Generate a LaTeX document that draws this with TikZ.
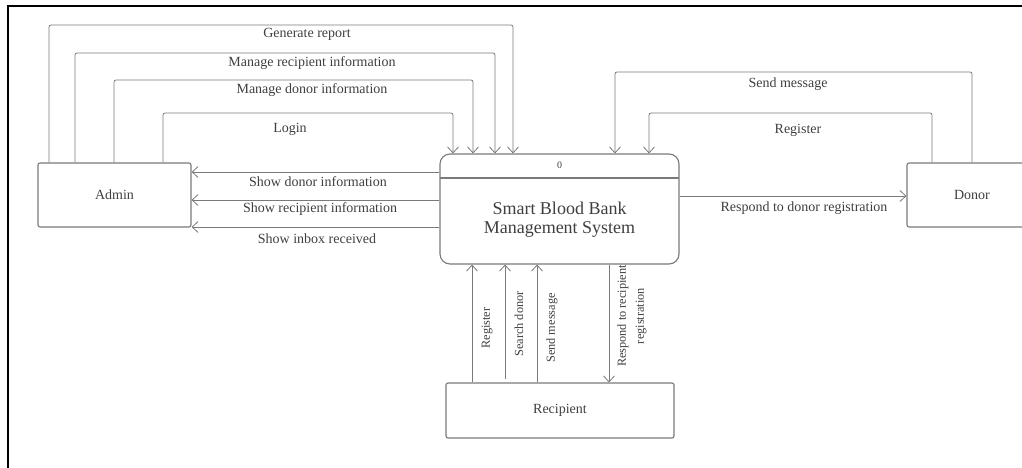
\documentclass[tikz,border=0pt]{standalone}
\usepackage{fontspec}
\setmainfont{Liberation Serif}
\usetikzlibrary{arrows.meta}

\definecolor{linegray}{HTML}{7A7A7A}
\definecolor{textgray}{HTML}{3F3F3F}

\tikzset{
  entity/.style={draw=linegray, line width=1.1pt, rounded corners=2pt,
    inner sep=0pt, text=textgray, font=\fontsize{14}{16}\selectfont},
  flow/.style={draw=linegray, line width=0.8pt, rounded corners=2pt,
    -{Straight Barb[length=6pt,width=11pt,line width=0.8pt]}},
  lbl/.style={text=textgray, inner sep=0pt, font=\fontsize{14}{16}\selectfont},
  vlbl/.style={text=textgray, inner sep=0pt, rotate=90, align=center,
    font=\fontsize{12.3}{18}\selectfont},
}

\begin{document}
\begin{tikzpicture}[x=1pt, y=-1pt]
  \useasboundingbox (0,0) rectangle (1022,468);
  \clip (0,0) rectangle (1022,468);

  % page frame (left and top edges)
  \draw[black, line width=2.4pt] (8,470) -- (8,6) -- (1024,6);

  % external entities
  \node[entity, minimum width=153pt, minimum height=64pt] (admin) at (114.5,195) {Admin};
  \node[entity, minimum width=130pt, minimum height=64pt] (donor) at (972,195) {Donor};
  \node[entity, minimum width=228pt, minimum height=55pt] (recipient) at (560,410.5) {Recipient};

  % central process
  \node[draw=linegray, line width=1.1pt, rounded corners=10pt, minimum width=239pt,
        minimum height=110pt, inner sep=0pt] (sys) at (559.5,209) {};
  \draw[linegray, line width=1.1pt] (440,178) -- (679,178);
  \node[lbl, font=\fontsize{10}{12}\selectfont] (sysid) at (559.5,165) {0};
  \node[lbl, align=center, font=\fontsize{18}{19}\selectfont] (sysname) at (559.5,220)
    {Smart Blood Bank\\Management System};

  % admin -> system
  \draw[flow] (49,0 |- admin.north)  -- (49,25)  -- (513,25)  -- (513,0 |- sys.north);
  \draw[flow] (75,0 |- admin.north)  -- (75,53)  -- (495,53)  -- (495,0 |- sys.north);
  \draw[flow] (114,0 |- admin.north) -- (114,80) -- (473,80)  -- (473,0 |- sys.north);
  \draw[flow] (163,0 |- admin.north) -- (163,113) -- (453,113) -- (453,0 |- sys.north);
  \node[lbl, anchor=north] (lgen)   at (307,28.5) {Generate report};
  \node[lbl, anchor=north] (lmrec)  at (312,56.5) {Manage recipient information};
  \node[lbl, anchor=north] (lmdon)  at (312,83.5) {Manage donor information};
  \node[lbl] (llogin) at (290,129) {Login};

  % system -> admin
  \draw[flow] (sys.west |- 0,172) -- (admin.east |- 0,172);
  \draw[flow] (sys.west |- 0,200) -- (admin.east |- 0,200);
  \draw[flow] (sys.west |- 0,227) -- (admin.east |- 0,227);
  \node[lbl] (lshd) at (318,182) {Show donor information};
  \node[lbl] (lshr) at (320,209) {Show recipient information};
  \node[lbl] (lshi) at (317,239) {Show inbox received};

  % donor <-> system
  \draw[flow] (972,0 |- donor.north) -- (972,72)  -- (615,72)  -- (615,0 |- sys.north);
  \draw[flow] (932,0 |- donor.north) -- (932,113) -- (649,113) -- (649,0 |- sys.north);
  \draw[flow] (sys.east |- 0,196) -- (donor.west |- 0,196);
  \node[lbl] (ldsend) at (788,84)  {Send message};
  \node[lbl] (ldreg)  at (798,130) {Register};
  \node[lbl] (ldresp) at (804,208) {Respond to donor registration};

  % recipient <-> system
  \draw[flow] (472,0 |- recipient.north) -- (472,0 |- sys.south);
  \draw[flow] (505,379) -- (505,0 |- sys.south);
  \draw[flow] (537,0 |- recipient.north) -- (537,0 |- sys.south);
  \draw[flow] (609,0 |- sys.south) -- (609,0 |- recipient.north);
  \node[vlbl] (lrreg)  at (487,328) {Register};
  \node[vlbl] (lrsrch) at (519,324) {Search donor};
  \node[vlbl] (lrsend) at (552,328) {Send message};
  \node[vlbl] (lrresp) at (632,316) {Respond to recipient\\registration};
\end{tikzpicture}
\end{document}
